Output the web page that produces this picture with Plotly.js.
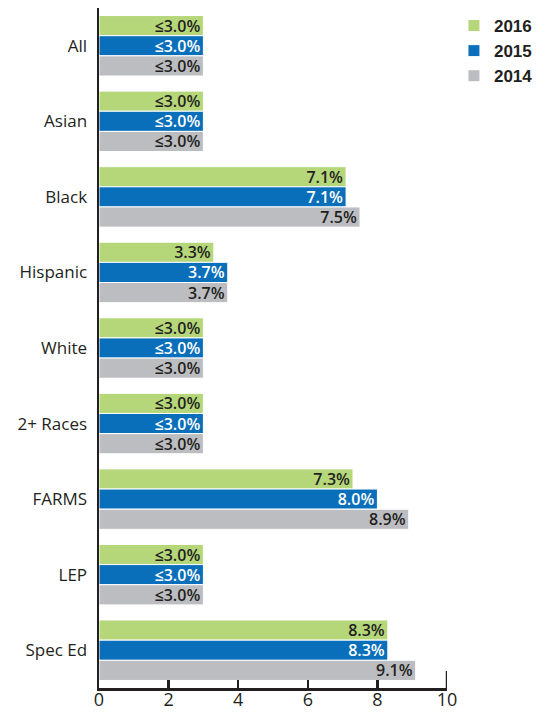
<!DOCTYPE html>
<html>
<head>
<meta charset="utf-8">
<script src="https://cdn.plot.ly/plotly-3.0.1.min.js"></script>
<style>html,body{margin:0;padding:0;background:#fff;}#chart{width:553px;height:712px;}</style>
</head>
<body>
<div id="chart"></div>
<script>
const categories = ["All", "Asian", "Black", "Hispanic", "White", "2+ Races", "FARMS", "LEP", "Spec Ed"];
const seriesNames = ["2016", "2015", "2014"];
const values2016 = [3.0, 3.0, 7.1, 3.3, 3.0, 3.0, 7.3, 3.0, 8.3];
const values2015 = [3.0, 3.0, 7.1, 3.7, 3.0, 3.0, 8.0, 3.0, 8.3];
const values2014 = [3.0, 3.0, 7.5, 3.7, 3.0, 3.0, 8.9, 3.0, 9.1];
const labels2016 = ["≤3.0%", "≤3.0%", "7.1%", "3.3%", "≤3.0%", "≤3.0%", "7.3%", "≤3.0%", "8.3%"];
const labels2015 = ["≤3.0%", "≤3.0%", "7.1%", "3.7%", "≤3.0%", "≤3.0%", "8.0%", "≤3.0%", "8.3%"];
const labels2014 = ["≤3.0%", "≤3.0%", "7.5%", "3.7%", "≤3.0%", "≤3.0%", "8.9%", "≤3.0%", "9.1%"];
const xTicks = [0, 2, 4, 6, 8, 10];

const colors = ["#b5d77a", "#0a6fba", "#bcbdc1"];
const textColors = ["#231f20", "#ffffff", "#231f20"];
const vals = [values2016, values2015, values2014];
const labs = [labels2016, labels2015, labels2014];

const traces = seriesNames.map((name, i) => ({
  type: "bar",
  orientation: "h",
  name: name,
  y: categories,
  x: vals[i],
  text: labs[i],
  textposition: "inside",
  insidetextanchor: "end",
  textangle: 0,
  constraintext: "none",
  cliponaxis: false,
  textfont: {family: "Open Sans, sans-serif", size: 16, color: textColors[i], weight: 600},
  marker: {color: colors[i], line: {color: "#ffffff", width: 1}},
  hoverinfo: "skip"
}));

const layout = {
  width: 553,
  height: 712,
  margin: {l: 99, r: 106, t: 8, b: 24},
  paper_bgcolor: "#ffffff",
  plot_bgcolor: "#ffffff",
  barmode: "group",
  bargap: 0.2,
  bargroupgap: 0,
  showlegend: true,
  legend: {
    x: 1.02, xanchor: "left", y: 1.0, yanchor: "top",
    traceorder: "normal",
    font: {family: "Liberation Sans, Arial, sans-serif", size: 17, color: "#231f20", weight: "bold"},
    itemwidth: 30,
    tracegroupgap: 0,
    bgcolor: "rgba(0,0,0,0)"
  },
  font: {family: "Open Sans, sans-serif", color: "#231f20"},
  xaxis: {
    range: [0, 10],
    tickvals: xTicks,
    ticktext: xTicks.map(String),
    showgrid: false,
    zeroline: false,
    showline: true,
    linecolor: "#231f20",
    linewidth: 2.5,
    ticks: "inside",
    ticklen: 8,
    tickwidth: 2.5,
    tickcolor: "#231f20",
    ticklabelstandoff: -6,
    tickfont: {family: "Open Sans, sans-serif", size: 18, color: "#231f20"},
    fixedrange: true
  },
  yaxis: {
    autorange: "reversed",
    showgrid: false,
    zeroline: false,
    showline: true,
    linecolor: "#231f20",
    linewidth: 2.5,
    ticks: "",
    ticklabelstandoff: 6,
    tickfont: {family: "Open Sans, sans-serif", size: 17, color: "#231f20"},
    fixedrange: true
  },
  shapes: [{
    type: "line", xref: "x", yref: "paper",
    x0: 10, x1: 10, y0: 0, y1: 0.025,
    line: {color: "#231f20", width: 2.5}
  }]
};

Plotly.newPlot("chart", traces, layout, {displayModeBar: false, staticPlot: true});
</script>
</body>
</html>
